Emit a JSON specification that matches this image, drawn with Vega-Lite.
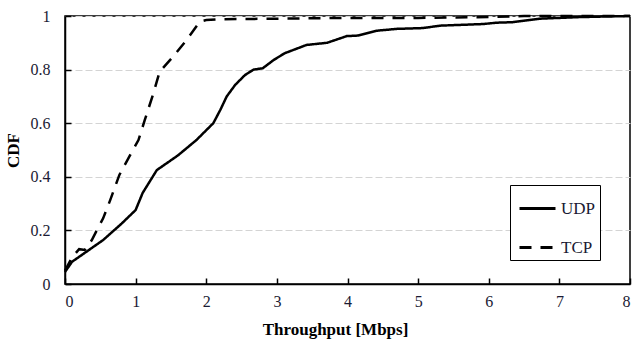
{
  "$schema": "https://vega.github.io/schema/vega-lite/v6.json",
  "width": 565,
  "height": 268,
  "autosize": {"type": "none"},
  "padding": {"left": 65, "top": 16, "right": 6, "bottom": 55},
  "background": "white",
  "config": {
    "view": {"stroke": "black", "strokeWidth": 1.5},
    "font": "Times New Roman"
  },
  "data": {
    "values": [
      {"series": "UDP", "x": 0, "y": 0.045},
      {"series": "UDP", "x": 0.1, "y": 0.083},
      {"series": "UDP", "x": 0.54, "y": 0.164},
      {"series": "UDP", "x": 0.8, "y": 0.225},
      {"series": "UDP", "x": 1.0, "y": 0.276},
      {"series": "UDP", "x": 1.1, "y": 0.34},
      {"series": "UDP", "x": 1.3, "y": 0.425},
      {"series": "UDP", "x": 1.6, "y": 0.48},
      {"series": "UDP", "x": 1.86, "y": 0.537},
      {"series": "UDP", "x": 2.1, "y": 0.6},
      {"series": "UDP", "x": 2.2, "y": 0.65},
      {"series": "UDP", "x": 2.29, "y": 0.7},
      {"series": "UDP", "x": 2.41, "y": 0.743},
      {"series": "UDP", "x": 2.55, "y": 0.78},
      {"series": "UDP", "x": 2.67, "y": 0.8},
      {"series": "UDP", "x": 2.8, "y": 0.805},
      {"series": "UDP", "x": 2.95, "y": 0.835},
      {"series": "UDP", "x": 3.11, "y": 0.861},
      {"series": "UDP", "x": 3.42, "y": 0.892},
      {"series": "UDP", "x": 3.71, "y": 0.9},
      {"series": "UDP", "x": 3.99, "y": 0.925},
      {"series": "UDP", "x": 4.15, "y": 0.927},
      {"series": "UDP", "x": 4.41, "y": 0.945},
      {"series": "UDP", "x": 4.7, "y": 0.952},
      {"series": "UDP", "x": 5.07, "y": 0.955},
      {"series": "UDP", "x": 5.31, "y": 0.964},
      {"series": "UDP", "x": 5.92, "y": 0.97},
      {"series": "UDP", "x": 6.11, "y": 0.975},
      {"series": "UDP", "x": 6.34, "y": 0.977},
      {"series": "UDP", "x": 6.73, "y": 0.99},
      {"series": "UDP", "x": 7.29, "y": 0.996},
      {"series": "UDP", "x": 8, "y": 1},
      {"series": "TCP", "x": 0, "y": 0.05},
      {"series": "TCP", "x": 0.1, "y": 0.1},
      {"series": "TCP", "x": 0.2, "y": 0.13},
      {"series": "TCP", "x": 0.28, "y": 0.127},
      {"series": "TCP", "x": 0.38, "y": 0.164},
      {"series": "TCP", "x": 0.45, "y": 0.2},
      {"series": "TCP", "x": 0.54, "y": 0.245},
      {"series": "TCP", "x": 0.64, "y": 0.313},
      {"series": "TCP", "x": 0.77, "y": 0.407},
      {"series": "TCP", "x": 0.92, "y": 0.48},
      {"series": "TCP", "x": 1.04, "y": 0.537},
      {"series": "TCP", "x": 1.13, "y": 0.612},
      {"series": "TCP", "x": 1.25, "y": 0.71},
      {"series": "TCP", "x": 1.34, "y": 0.792},
      {"series": "TCP", "x": 1.53, "y": 0.848},
      {"series": "TCP", "x": 1.72, "y": 0.91},
      {"series": "TCP", "x": 1.91, "y": 0.979},
      {"series": "TCP", "x": 2.0, "y": 0.985},
      {"series": "TCP", "x": 2.19, "y": 0.988},
      {"series": "TCP", "x": 3, "y": 0.99},
      {"series": "TCP", "x": 4, "y": 0.993},
      {"series": "TCP", "x": 5, "y": 0.993},
      {"series": "TCP", "x": 6, "y": 0.996},
      {"series": "TCP", "x": 6.5, "y": 1},
      {"series": "TCP", "x": 8, "y": 1}
    ]
  },
  "mark": {"type": "line", "color": "black", "strokeWidth": 2.5},
  "encoding": {
    "x": {
      "field": "x",
      "type": "quantitative",
      "scale": {"domain": [0, 8], "nice": false},
      "axis": {
        "title": "Throughput [Mbps]",
        "titleFont": "Times New Roman",
        "titleFontSize": 17,
        "titleFontWeight": "bold",
        "titleColor": "black",
        "titlePadding": 12,
        "titleX": 270,
        "values": [0, 1, 2, 3, 4, 5, 6, 7, 8],
        "labelFont": "Times New Roman",
        "labelFontSize": 16,
        "labelColor": "#1a1a33",
        "labelPadding": 15,
        "tickSize": -6,
        "tickColor": "black",
        "tickWidth": 1.5,
        "domainColor": "black",
        "domainWidth": 1.5,
        "grid": false
      }
    },
    "y": {
      "field": "y",
      "type": "quantitative",
      "scale": {"domain": [0, 1], "nice": false},
      "axis": {
        "title": "CDF",
        "titleFont": "Times New Roman",
        "titleFontSize": 17,
        "titleFontWeight": "bold",
        "titleColor": "black",
        "titlePadding": 8,
        "values": [0, 0.2, 0.4, 0.6, 0.8, 1],
        "format": "~g",
        "labelFont": "Times New Roman",
        "labelFontSize": 16,
        "labelColor": "#1a1a33",
        "labelPadding": 21,
        "tickSize": -6,
        "tickColor": "black",
        "tickWidth": 1.5,
        "domainColor": "black",
        "domainWidth": 1.5,
        "grid": true,
        "gridColor": "#d4d4d4",
        "gridDash": [7, 3],
        "gridWidth": 1
      }
    },
    "strokeDash": {
      "field": "series",
      "type": "nominal",
      "scale": {"domain": ["UDP", "TCP"], "range": [[1, 0], [12, 9]]},
      "legend": {
        "title": null,
        "orient": "none",
        "legendX": 445,
        "legendY": 169,
        "strokeColor": "black",
        "fillColor": "white",
        "padding": 4,
        "symbolType": "stroke",
        "symbolSize": 1296,
        "symbolStrokeWidth": 3,
        "symbolStrokeColor": "black",
        "symbolOffset": 4,
        "labelFont": "Times New Roman",
        "labelFontSize": 17,
        "labelColor": "#1a1a33",
        "labelOffset": 4,
        "rowPadding": 11
      }
    }
  }
}
